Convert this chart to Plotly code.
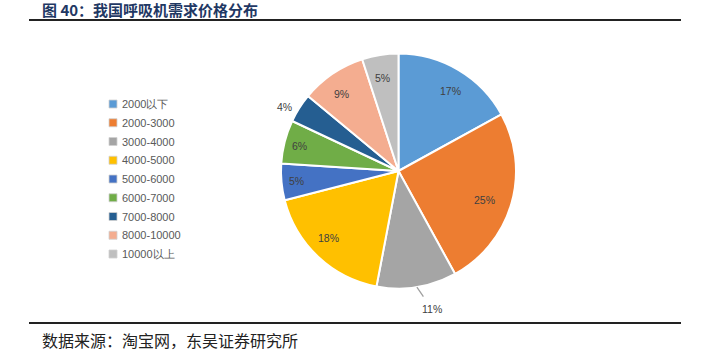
import math
import plotly.graph_objects as go

categories = ["2000以下", "2000-3000", "3000-4000", "4000-5000", "5000-6000",
              "6000-7000", "7000-8000", "8000-10000", "10000以上"]
shares = [17, 25, 11, 18, 5, 6, 4, 9, 5]
colors = ["#5B9BD5", "#ED7D31", "#A5A5A5", "#FFC000", "#4472C4",
          "#70AD47", "#255E91", "#F4AD90", "#BFBFBF"]
outside = [False, False, True, False, False, False, True, False, False]
title_text = "图 40：我国呼吸机需求价格分布"
source_text = "数据来源：淘宝网，东吴证券研究所"

W, H = 702, 354
cx, cy, r = 398.5, 171, 117.5


def px(x):
    return x / W


def py(y):
    return 1 - y / H


fig = go.Figure(go.Pie(
    labels=categories,
    values=shares,
    sort=False,
    direction="clockwise",
    rotation=0,
    marker=dict(colors=colors, line=dict(color="white", width=2)),
    textinfo="none",
    domain=dict(x=[px(cx - r), px(cx + r)], y=[py(cy + r), py(cy - r)]),
    hoverinfo="label+percent",
    showlegend=False,
))

annotations = []
shapes = [
    dict(type="line", xref="paper", yref="paper", x0=px(29), x1=px(681),
         y0=py(20), y1=py(20), line=dict(color="#222222", width=2)),
    dict(type="line", xref="paper", yref="paper", x0=px(29), x1=px(681),
         y0=py(323), y1=py(323), line=dict(color="#222222", width=2)),
]

# data labels placed along each slice's mid-angle
total = sum(shares)
cum = 0
label_font = dict(family="Liberation Sans, Arial", size=10.5, color="#404040")
for i, v in enumerate(shares):
    mid = (cum + v / 2) / total * 2 * math.pi
    cum += v
    dx, dy = math.sin(mid), -math.cos(mid)
    text = f"{v}%"
    if not outside[i]:
        k = 0.87
        annotations.append(dict(text=text, xref="paper", yref="paper",
                                x=px(cx + k * r * dx), y=py(cy + k * r * dy),
                                showarrow=False, font=label_font))
    elif v >= 10:
        ex, ey = cx + r * dx, cy + r * dy
        annotations.append(dict(text=text, xref="paper", yref="paper",
                                x=px(ex), y=py(ey), ax=15, ay=22,
                                showarrow=True, arrowhead=0, arrowwidth=1.3,
                                arrowcolor="#A0A0A0", standoff=0, startstandoff=6,
                                font=label_font))
    else:
        k = 1.15
        annotations.append(dict(text=text, xref="paper", yref="paper",
                                x=px(cx + k * r * dx), y=py(cy + k * r * dy),
                                showarrow=False, font=label_font))

# legend
lx, ly0, step = 113, 104, 18.75
for i, (c, col) in enumerate(zip(categories, colors)):
    y = ly0 + i * step
    shapes.append(dict(type="rect", xref="paper", yref="paper",
                       x0=px(lx - 4), x1=px(lx + 4), y0=py(y + 4), y1=py(y - 4),
                       fillcolor=col, line=dict(color="#D0D0D0", width=0.8)))
    annotations.append(dict(text=c, xref="paper", yref="paper",
                            x=px(lx + 7), y=py(y), xanchor="left", yanchor="middle",
                            showarrow=False,
                            font=dict(family="Liberation Sans, Arial", size=11, color="#595959")))

annotations.append(dict(text="<b>" + title_text + "</b>", xref="paper", yref="paper",
                        x=px(40), y=py(10), xanchor="left", yanchor="middle", showarrow=False,
                        font=dict(family="Noto Sans CJK SC", size=15, color="#1F3864")))
annotations.append(dict(text=source_text, xref="paper", yref="paper",
                        x=px(40), y=py(340), xanchor="left", yanchor="middle", showarrow=False,
                        font=dict(family="Noto Sans CJK SC", size=16, color="#222222")))

fig.update_layout(
    width=W, height=H,
    margin=dict(l=0, r=0, t=0, b=0),
    paper_bgcolor="white",
    plot_bgcolor="white",
    shapes=shapes,
    annotations=annotations,
)

fig.write_html("out.html")
